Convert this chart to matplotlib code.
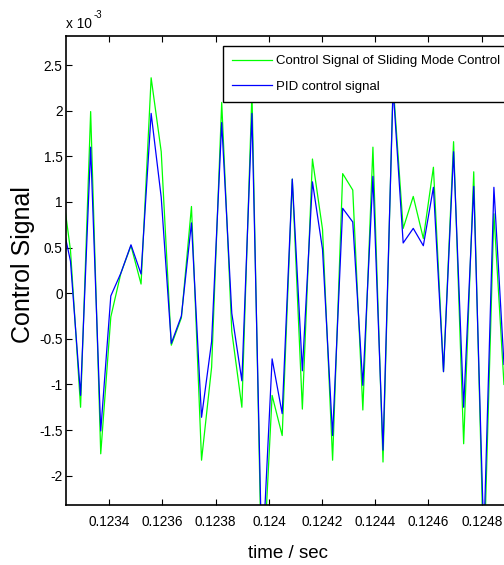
import matplotlib
matplotlib.use("Agg")
import matplotlib.pyplot as plt

plt.rcParams['font.family'] = ['Liberation Sans', 'DejaVu Sans']
plt.rcParams['axes.unicode_minus'] = False

# sample times (s)
time = [0.1232162, 0.1232541, 0.1232920, 0.1233299, 0.1233678, 0.1234057,
        0.1234436, 0.1234815, 0.1235194, 0.1235573, 0.1235952, 0.1236331,
        0.1236710, 0.1237089, 0.1237468, 0.1237847, 0.1238226, 0.1238605,
        0.1238984, 0.1239363, 0.1239742, 0.1240121, 0.1240500, 0.1240879,
        0.1241258, 0.1241637, 0.1242016, 0.1242395, 0.1242774, 0.1243153,
        0.1243532, 0.1243911, 0.1244290, 0.1244669, 0.1245048, 0.1245427,
        0.1245806, 0.1246185, 0.1246564, 0.1246943, 0.1247322, 0.1247701,
        0.1248080, 0.1248459, 0.1248838]

# control signals, in units of 1e-3
smc = [1.30, 0.47, -1.25, 1.99, -1.76, -0.26, 0.22, 0.52, 0.10, 2.36, 1.55,
       -0.57, -0.27, 0.95, -1.83, -0.81, 2.09, -0.42, -1.25, 2.20, -3.30,
       -1.12, -1.56, 1.25, -1.27, 1.47, 0.70, -1.83, 1.31, 1.13, -1.28,
       1.60, -1.85, 2.30, 0.71, 1.06, 0.60, 1.38, -0.86, 1.66, -1.65, 1.33,
       -3.00, 0.87, -1.00]
pid = [0.87, 0.35, -1.12, 1.60, -1.51, -0.03, 0.22, 0.53, 0.21, 1.97, 1.05,
       -0.55, -0.25, 0.77, -1.36, -0.53, 1.87, -0.22, -0.96, 1.97, -3.00,
       -0.72, -1.32, 1.25, -0.85, 1.22, 0.48, -1.56, 0.93, 0.78, -1.01,
       1.28, -1.72, 2.25, 0.55, 0.71, 0.52, 1.16, -0.86, 1.55, -1.25, 1.17,
       -2.70, 1.16, -0.78]

xticks = [0.1234, 0.1236, 0.1238, 0.1240, 0.1242, 0.1244, 0.1246, 0.1248]
yticks = [-2, -1.5, -1, -0.5, 0, 0.5, 1, 1.5, 2, 2.5]

W, H = 504, 565
fig = plt.figure(figsize=(W / 100, H / 100), dpi=100)
# axes runs slightly past the right edge of the picture
ax = fig.add_axes([65.7 / W, 1 - 505 / H, 443.6 / W, 469 / H])

ax.plot(time, smc, color=(0, 1, 0), lw=0.9, label='Control Signal of Sliding Mode Control')
ax.plot(time, pid, color=(0, 0, 1), lw=0.9, label='PID control signal')

ax.set_xlim(0.1232361, 0.1249038)
ax.set_ylim(-2.321, 2.818)
ax.set_xticks(xticks)
ax.set_xticklabels(['%g' % t for t in xticks])
ax.set_yticks(yticks)
ax.set_yticklabels(['%g' % v for v in yticks])
ax.tick_params(direction='in', length=4, width=0.8, labelsize=9.8,
               top=True, right=False, colors='black')
ax.tick_params(axis='x', pad=7)
ax.tick_params(axis='y', pad=2.2)
for s in ax.spines.values():
    s.set_linewidth(1.2)

leg = ax.legend(loc='upper left', bbox_to_anchor=(223 / W, 1 - 46 / H),
                bbox_transform=fig.transFigure, fontsize=9.5, fancybox=False,
                framealpha=1, edgecolor='black', borderpad=0.7,
                handlelength=3.0, handletextpad=0.3, labelspacing=1.0,
                borderaxespad=0)
leg.get_frame().set_linewidth(1.0)

fig.text(65.7 / W, 1 - 27.5 / H, 'x 10', fontsize=9.9, ha='left', va='baseline')
fig.text(93.5 / W, 1 - 17.5 / H, '-3', fontsize=7, ha='left', va='baseline')
fig.text(23 / W, 1 - 265 / H, 'Control Signal', rotation=90, fontsize=18,
         ha='center', va='center')
fig.text(287.5 / W, 1 - 558 / H, 'time / sec', fontsize=13.5,
         ha='center', va='baseline')

fig.savefig('out.png', dpi=100)
